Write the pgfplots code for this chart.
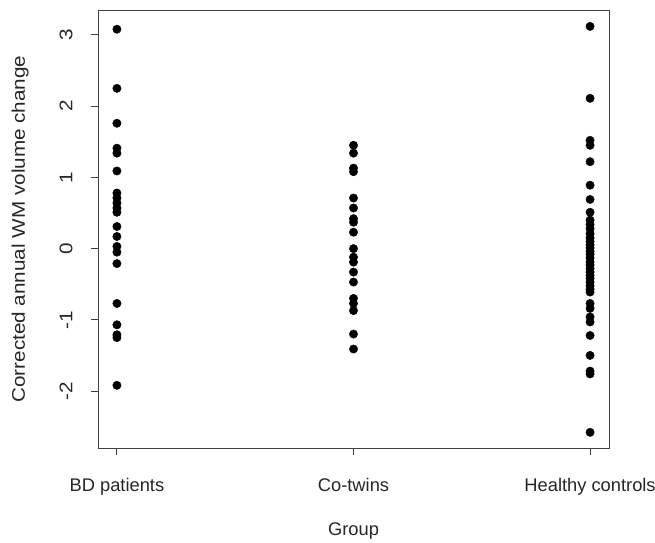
\documentclass[border=0pt]{standalone}
\usepackage{pgfplots}
\pgfplotsset{compat=1.18}
\usepackage{fontspec}
\setmainfont{Liberation Sans}
\begin{document}
\begin{tikzpicture}[x=1pt,y=1pt]
\path[use as bounding box] (0,0) rectangle (655,542);
\begin{axis}[
  at={(98pt,94pt)}, anchor=south west,
  scale only axis, width=511pt, height=438pt,
  xmin=0.92, xmax=3.08, ymin=-2.80, ymax=3.35,
  xtick={1,2,3}, xticklabels={BD patients,Co-twins,Healthy controls},
  ytick={-2,-1,0,1,2,3}, yticklabels={{-2},{-1},0,1,2,3},
  tick align=outside, major tick length=7pt,
  xtick pos=bottom, ytick pos=left,
  axis line style={black!75, line width=0.9pt},
  every tick/.style={black!75, line width=0.9pt},
  tick label style={font=\fontsize{18.3}{20}\selectfont, text=black!85},
  label style={font=\fontsize{18.3}{20}\selectfont, text=black!85},
  xticklabel style={yshift=-20pt},
  yticklabel style={rotate=90, anchor=south, yshift=15pt, xscale=1.13},
  xlabel={Group}, ylabel={Corrected annual WM volume change},
  xlabel style={yshift=-20pt},
  ylabel style={yshift=24pt, xscale=1.13},
  clip=false,
]
\addplot[only marks, mark=*, mark size=4.2pt, black] coordinates {
(1,3.08) (1,2.25) (1,1.76) (1,1.41) (1,1.34) (1,1.09)
(1,0.78) (1,0.71) (1,0.64) (1,0.57) (1,0.51)
(1,0.31) (1,0.17) (1,0.03) (1,-0.05) (1,-0.21)
(1,-0.77) (1,-1.07) (1,-1.21) (1,-1.25) (1,-1.92)
};
\addplot[only marks, mark=*, mark size=4.2pt, black] coordinates {
(2,1.45) (2,1.34) (2,1.13) (2,1.08) (2,0.71) (2,0.57)
(2,0.42) (2,0.37) (2,0.23) (2,0.0) (2,-0.12) (2,-0.19)
(2,-0.33) (2,-0.47) (2,-0.70) (2,-0.77) (2,-0.87)
(2,-1.20) (2,-1.41)
};
\addplot[only marks, mark=*, mark size=4.2pt, black] coordinates {
(3,3.12) (3,2.11) (3,1.52) (3,1.45) (3,1.22) (3,0.89)
(3,0.69) (3,0.51) (3,0.40) (3,0.34) (3,0.28) (3,0.21)
(3,0.15) (3,0.10) (3,0.05) (3,0.01) (3,-0.04) (3,-0.08)
(3,-0.13) (3,-0.19) (3,-0.23) (3,-0.28) (3,-0.33) (3,-0.38)
(3,-0.42) (3,-0.47) (3,-0.52) (3,-0.57) (3,-0.61) (3,-0.77)
(3,-0.84) (3,-0.96) (3,-1.03) (3,-1.22) (3,-1.50) (3,-1.72)
(3,-1.76) (3,-2.58)
};
\end{axis}
\end{tikzpicture}
\end{document}
